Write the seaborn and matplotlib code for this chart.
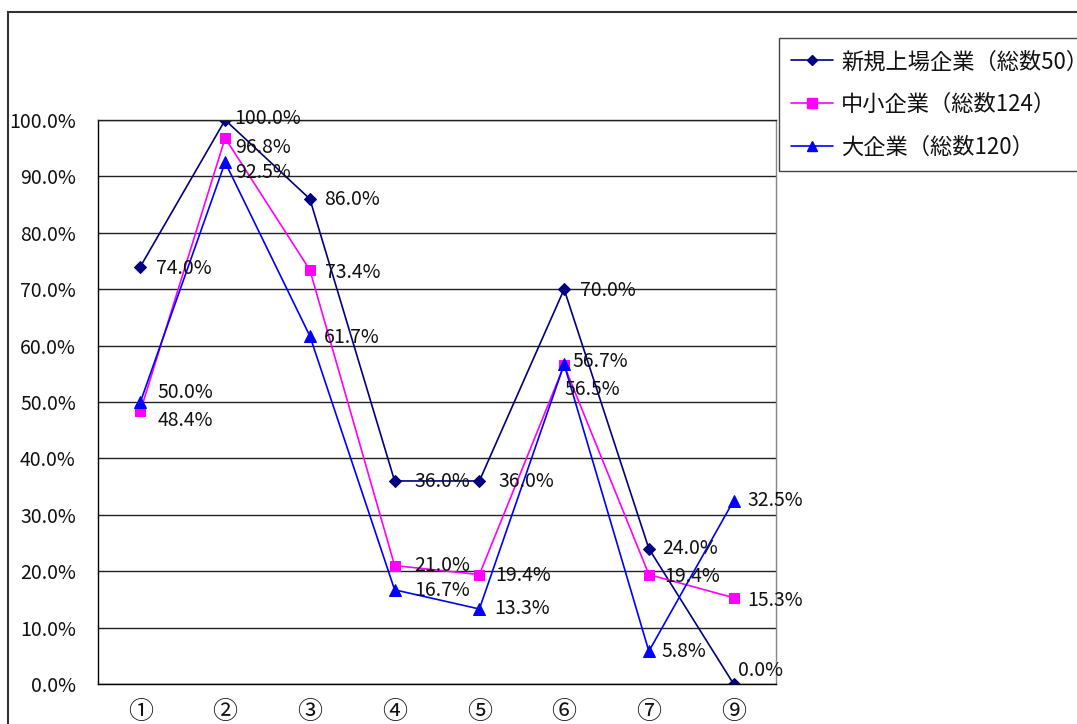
import matplotlib
matplotlib.use("Agg")
import matplotlib.pyplot as plt
import matplotlib.patches as mpatches
from matplotlib.lines import Line2D
from matplotlib.ticker import FixedLocator, FuncFormatter
import seaborn as sns
import pandas as pd

# --- data -------------------------------------------------------------
categories = ["①", "②", "③", "④", "⑤", "⑥", "⑦", "⑨"]
series_names = ["新規上場企業（総数50）", "中小企業（総数124）", "大企業（総数120）"]
new_listed = [74.0, 100.0, 86.0, 36.0, 36.0, 70.0, 24.0, 0.0]
sme = [48.4, 96.8, 73.4, 21.0, 19.4, 56.5, 19.4, 15.3]
large = [50.0, 92.5, 61.7, 16.7, 13.3, 56.7, 5.8, 32.5]

# --- styling ----------------------------------------------------------
colors = ["#000080", "#FF00FF", "#0000FF"]
markers = ["D", "s", "^"]
marker_sizes = [6, 7.5, 8.5]
# label offsets (pixels right, pixels down) per point of each series
label_offsets = [
    [(16, 2), (9, -1), (14, 1), (20, 1), (19, 1), (16, 1), (13, 0), (4, -13)],
    [(17, 9), (10, 9), (15, 2), (20, 0), (16, 1), (0, 24), (15, 2), (14, 3)],
    [(17, -10), (10, 10), (14, 1), (20, 1), (15, 0), (8, -3), (13, 0), (14, 0)],
]

sns.set_theme(style="white")
plt.rcParams["font.family"] = ["Noto Sans CJK JP", "DejaVu Sans"]

values = [new_listed, sme, large]
df = pd.DataFrame({
    "x": [i for _ in series_names for i in range(len(categories))],
    "value": [v for vals in values for v in vals],
    "series": [s for s in series_names for _ in categories],
})

fig = plt.figure(figsize=(10.77, 7.24), dpi=100)
ax = fig.add_axes([98 / 1077, 1 - 684 / 724, (776 - 98) / 1077, (684 - 120) / 724])

for name, col, mk, ms in zip(series_names, colors, markers, marker_sizes):
    sns.lineplot(data=df[df["series"] == name], x="x", y="value", ax=ax,
                 color=col, marker=mk, markersize=ms, markeredgecolor=col,
                 linewidth=1.2, sort=False, legend=False)

# data labels
for vals, offs in zip(values, label_offsets):
    for i, (v, (dx, dy)) in enumerate(zip(vals, offs)):
        ax.annotate(f"{v:.1f}%", (i, v), xytext=(dx * 0.72, -dy * 0.72),
                    textcoords="offset points", ha="left", va="center",
                    fontsize=14, color="#111111", annotation_clip=False)

# axes
ax.set_xlim(-0.5, len(categories) - 0.5)
ax.set_ylim(0, 100)
ax.set_xlabel("")
ax.set_ylabel("")
ax.set_xticks(range(len(categories)))
ax.set_xticklabels(categories, fontsize=18)
ax.xaxis.set_minor_locator(FixedLocator([i + 0.5 for i in range(len(categories) - 1)]))
ax.tick_params(axis="x", which="major", length=0, pad=11)
ax.tick_params(axis="x", which="minor", direction="in", length=5, color="black", width=1)
ax.set_yticks(range(0, 101, 10))
ax.yaxis.set_major_formatter(FuncFormatter(lambda v, _: f"{v:.1f}%"))
ax.tick_params(axis="y", direction="in", length=4, color="black", labelsize=14, pad=16)
for lbl in ax.get_xticklabels() + ax.get_yticklabels():
    lbl.set_color("#111111")
ax.yaxis.grid(True, color="#222222", linewidth=1)
ax.set_axisbelow(True)
ax.spines["left"].set_color("black")
ax.spines["bottom"].set_color("black")
ax.spines["top"].set_color("#222222")
ax.spines["right"].set_color("#888888")
for s in ax.spines.values():
    s.set_linewidth(1)

# legend
handles = [Line2D([0], [0], color=c, marker=m, markersize=ms * 0.9, markeredgecolor=c, linewidth=1.2)
           for c, m, ms in zip(colors, markers, marker_sizes)]
leg = fig.legend(handles, series_names, loc="upper left",
                 bbox_to_anchor=(779 / 1077, 1 - 38 / 724), bbox_transform=fig.transFigure,
                 fontsize=16, frameon=True, fancybox=False, edgecolor="#444444",
                 framealpha=1, handlelength=1.9, handletextpad=0.35,
                 labelspacing=0.9, borderpad=0.55, borderaxespad=0)
leg.get_frame().set_linewidth(1)
for t in leg.get_texts():
    t.set_color("#111111")

# outer chart frame
fig.patches.append(mpatches.Rectangle((8 / 1077, -0.1), 2, 1 - 12 / 724 + 0.1,
                                      transform=fig.transFigure, fill=False,
                                      edgecolor="#333333", linewidth=1.5))

fig.savefig("out.png", dpi=100)
